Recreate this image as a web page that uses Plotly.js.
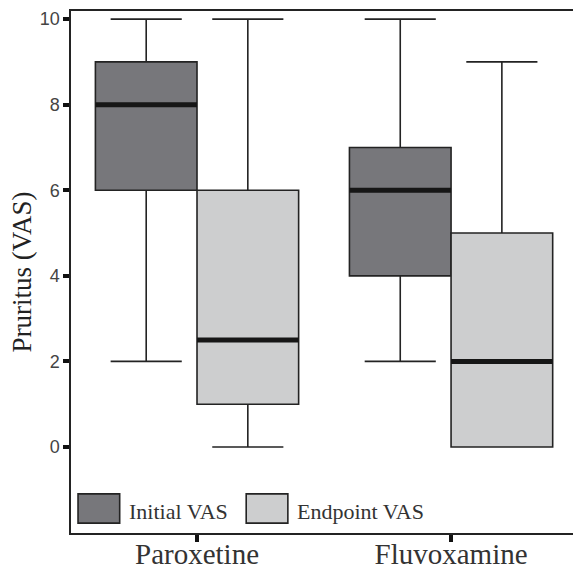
<!DOCTYPE html>
<html><head><meta charset="utf-8">
<script src="https://cdn.plot.ly/plotly-3.0.1.min.js"></script>
<style>html,body{margin:0;padding:0;background:#fff;overflow:hidden}</style></head>
<body>
<div id="chart" style="width:573px;height:571px"></div>
<script>
const drugs = ['Paroxetine', 'Fluvoxamine'];
const seriesNames = ['Initial VAS', 'Endpoint VAS'];
const initialMin = [2, 2];
const initialQ1 = [6, 4];
const initialMedian = [8, 6];
const initialQ3 = [9, 7];
const initialMax = [10, 10];
const endpointMin = [0, 0];
const endpointQ1 = [1, 0];
const endpointMedian = [2.5, 2];
const endpointQ3 = [6, 5];
const endpointMax = [10, 9];
const yTicks = [0, 2, 4, 6, 8, 10];

const colors = ['#77777b', '#cdcecf'];
const edge = '#232323';

function boxTrace(name, group, lo, q1, med, q3, hi, fill) {
  return {
    type: 'box', name: name, x: drugs, offsetgroup: group,
    lowerfence: lo, q1: q1, median: med, q3: q3, upperfence: hi,
    fillcolor: fill, line: { color: edge, width: 1.6 },
    whiskerwidth: 0.7, boxpoints: false, showlegend: false, hoverinfo: 'skip'
  };
}
function medianTrace(group, med) {
  return {
    type: 'box', x: drugs, offsetgroup: group,
    lowerfence: med, q1: med, median: med, q3: med, upperfence: med,
    fillcolor: 'rgba(0,0,0,0)', line: { color: '#161616', width: 5 },
    whiskerwidth: 0, boxpoints: false, showlegend: false, hoverinfo: 'skip'
  };
}

const data = [
  boxTrace(seriesNames[0], 'a', initialMin, initialQ1, initialMedian, initialQ3, initialMax, colors[0]),
  boxTrace(seriesNames[1], 'b', endpointMin, endpointQ1, endpointMedian, endpointQ3, endpointMax, colors[1]),
  medianTrace('a', initialMedian),
  medianTrace('b', endpointMedian)
];

// custom legend (large swatches like the original)
const legX = [0.014, 0.349];
const shapes = [];
const annotations = [];
seriesNames.forEach((n, i) => {
  shapes.push({ type: 'rect', xref: 'paper', yref: 'paper',
    x0: legX[i], x1: legX[i] + 0.083, y0: 0.019, y1: 0.075,
    fillcolor: colors[i], line: { color: edge, width: 1.6 } });
  annotations.push({ xref: 'paper', yref: 'paper', x: legX[i] + 0.098, y: 0.042,
    xanchor: 'left', yanchor: 'middle', text: n, showarrow: false,
    font: { family: 'Liberation Serif, Times New Roman, serif', size: 22, color: '#333' } });
});

const layout = {
  width: 573, height: 571,
  margin: { l: 71, r: 0, t: 11, b: 38 },
  paper_bgcolor: '#fff', plot_bgcolor: '#fff',
  boxmode: 'group', boxgap: 0.2, boxgroupgap: 0,
  showlegend: false,
  xaxis: {
    type: 'category', range: [-0.496, 1.48],
    showline: true, mirror: true, linecolor: edge, linewidth: 1.6,
    ticks: 'outside', ticklen: 7, tickwidth: 4, tickcolor: '#111',
    ticklabelstandoff: -12,
    showgrid: false, zeroline: false,
    tickfont: { family: 'Liberation Serif, Times New Roman, serif', size: 29, color: '#333' }
  },
  yaxis: {
    range: [-2.01, 10.19], tickvals: yTicks,
    showline: true, linecolor: edge, linewidth: 1.6,
    ticks: 'outside', ticklen: 6, tickwidth: 4, tickcolor: '#111',
    showgrid: false, zeroline: false,
    tickfont: { family: 'Liberation Sans, Arial, sans-serif', size: 18, color: '#444' },
    title: { text: 'Pruritus (VAS)', standoff: 0,
      font: { family: 'Liberation Serif, Times New Roman, serif', size: 27, color: '#222' } },
    automargin: false
  },
  shapes: shapes,
  annotations: annotations
};

Plotly.newPlot('chart', data, layout, { displayModeBar: false, staticPlot: true });
</script>
</body></html>
